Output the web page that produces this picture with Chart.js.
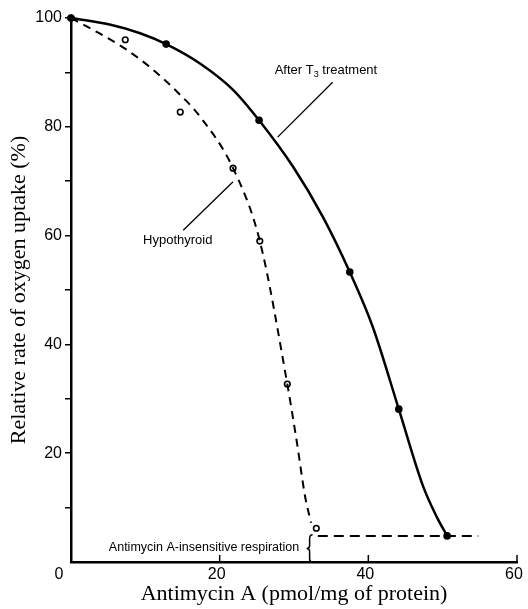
<!DOCTYPE html>
<html>
<head>
<meta charset="utf-8">
<script src="https://cdn.jsdelivr.net/npm/chart.js@4"></script>
<style>
  html, body { margin: 0; padding: 0; background: #fff; }
  #wrap { width: 528px; height: 609px; }
</style>
</head>
<body>
<div id="wrap"><canvas id="chart"></canvas></div>
<script>
// measured points
const t3X = [0, 12.8, 25.3, 37.5, 44.1, 50.6];
const t3Y = [100, 95.2, 81.2, 53.3, 28.1, 4.8];
const hypoX = [0, 7.3, 14.7, 21.8, 25.4, 29.1, 33.0];
const hypoY = [100, 96, 82.7, 72.4, 59, 32.7, 6.2];

// solid fitted curve (After T3)
const t3CurveX = [0, 5.2, 9.3, 12.8, 17.4, 21.8, 25.3, 29.9, 33.9, 37.5, 40.6, 44.1, 47.4, 49.2, 50.6];
const t3CurveY = [100, 98.8, 97.2, 95.2, 91.6, 86.8, 81.2, 72.6, 63.4, 53.3, 43.2, 28.1, 13.8, 8.3, 4.8];

// dashed fitted curve (hypothyroid)
const hypoCurveX = [0, 3, 7, 10.6, 14.3, 17.4, 21.8, 25.4, 29.1, 30.4, 31.5, 32.3];
const hypoCurveY = [100, 97.8, 94.6, 91, 86.4, 81.8, 72.4, 59, 32.7, 21.9, 12, 7.2];

// antimycin A-insensitive level
const baseX = [33.2, 54.8];
const baseY = [4.8, 4.8];

const xTicks = [0, 20, 40, 60];

const pts = (xs, ys) => xs.map((x, i) => ({ x: x, y: ys[i] }));

const sans = "'Liberation Sans', Arial, sans-serif";
const serif = "'Liberation Serif', 'Times New Roman', serif";

const extras = {
  id: 'extras',
  afterDraw(chart) {
    const ctx = chart.ctx;
    const xs = chart.scales.x, ys = chart.scales.y;
    const px = v => xs.getPixelForValue(v);
    const py = v => ys.getPixelForValue(v);
    ctx.save();
    ctx.strokeStyle = '#000';
    ctx.fillStyle = '#000';

    // inward ticks on the x axis
    ctx.lineWidth = 1.5;
    xTicks.slice(1).forEach(v => {
      ctx.beginPath();
      ctx.moveTo(px(v), py(0));
      ctx.lineTo(px(v), py(0) - 7);
      ctx.stroke();
    });

    // x tick labels
    ctx.font = '16px ' + sans;
    ctx.textAlign = 'center';
    ctx.textBaseline = 'middle';
    xTicks.forEach(v => {
      const off = v === 0 ? -12 : -3;
      ctx.fillText(String(v), px(v) + off, py(0) + 13);
    });

    // leader lines
    ctx.lineWidth = 1.3;
    ctx.beginPath();
    ctx.moveTo(px(35.2), py(88.2));
    ctx.lineTo(px(27.8), py(78.1));
    ctx.moveTo(px(15.1), py(61.0));
    ctx.lineTo(px(21.8), py(69.9));
    ctx.stroke();

    // curve labels
    ctx.font = '13px ' + sans;
    ctx.textAlign = 'left';
    ctx.textBaseline = 'middle';
    let lx = px(27.4), ly = py(90.4);
    ctx.fillText('After T', lx, ly);
    lx += ctx.measureText('After T').width;
    ctx.font = '9px ' + sans;
    ctx.fillText('3', lx, ly + 4);
    lx += ctx.measureText('3').width;
    ctx.font = '13px ' + sans;
    ctx.fillText(' treatment', lx, ly);

    ctx.fillText('Hypothyroid', px(9.7), py(59.2));

    ctx.font = '12.5px ' + sans;
    ctx.textAlign = 'right';
    ctx.fillText('Antimycin A-insensitive respiration', px(30.7), py(2.6));

    // brace
    const bx = px(32.1), top = py(5), bot = py(0), mid = (top + bot) / 2;
    ctx.lineWidth = 1.5;
    ctx.beginPath();
    ctx.moveTo(bx + 3, top);
    ctx.quadraticCurveTo(bx, top, bx, top + 4);
    ctx.lineTo(bx, mid - 3);
    ctx.quadraticCurveTo(bx, mid, bx - 3, mid);
    ctx.quadraticCurveTo(bx, mid, bx, mid + 3);
    ctx.lineTo(bx, bot - 3);
    ctx.quadraticCurveTo(bx, bot, bx + 3, bot);
    ctx.stroke();

    ctx.restore();
  }
};

new Chart(document.getElementById('chart'), {
  type: 'scatter',
  data: {
    datasets: [
      {
        label: 'After T3 treatment curve',
        type: 'line',
        data: pts(t3CurveX, t3CurveY),
        borderColor: '#000',
        borderWidth: 2.5,
        cubicInterpolationMode: 'monotone',
        pointRadius: 0,
        fill: false,
        clip: false
      },
      {
        label: 'Hypothyroid curve',
        type: 'line',
        data: pts(hypoCurveX, hypoCurveY),
        borderColor: '#000',
        borderWidth: 2,
        borderDash: [8, 6],
        cubicInterpolationMode: 'monotone',
        pointRadius: 0,
        fill: false,
        clip: false
      },
      {
        label: 'Insensitive level',
        type: 'line',
        data: pts(baseX, baseY),
        borderColor: '#000',
        borderWidth: 2,
        borderDash: [10, 6],
        pointRadius: 0,
        fill: false,
        clip: false
      },
      {
        label: 'After T3 treatment',
        data: pts(t3X, t3Y),
        pointRadius: 3.8,
        pointBackgroundColor: '#000',
        pointBorderColor: '#000',
        pointBorderWidth: 0,
        clip: false
      },
      {
        label: 'Hypothyroid',
        data: pts(hypoX, hypoY),
        pointRadius: 2.8,
        pointBackgroundColor: '#fff',
        pointBorderColor: '#000',
        pointBorderWidth: 1.6,
        clip: false
      }
    ]
  },
  options: {
    responsive: true,
    maintainAspectRatio: false,
    animation: false,
    layout: { padding: { left: 0, right: 11, top: 18, bottom: 0 } },
    plugins: {
      legend: { display: false },
      tooltip: { enabled: false }
    },
    scales: {
      x: {
        type: 'linear',
        min: 0,
        max: 60,
        afterFit: s => { s.height = 47; },
        border: { display: true, color: '#000', width: 2.5 },
        grid: { display: false },
        ticks: { display: false },
        title: {
          display: true,
          text: 'Antimycin A (pmol/mg of protein)',
          color: '#000',
          font: { family: serif, size: 22 },
          padding: { top: 0, bottom: 2 }
        }
      },
      y: {
        type: 'linear',
        min: 0,
        max: 100,
        afterFit: s => { s.width = 71; },
        border: { display: true, color: '#000', width: 2.5 },
        grid: {
          display: true,
          drawOnChartArea: false,
          drawTicks: true,
          tickLength: 6,
          color: '#000',
          lineWidth: c => (c.tick && c.tick.value === 0 ? 0 : 1.5)
        },
        ticks: {
          stepSize: 10,
          color: '#000',
          padding: 3,
          font: { family: sans, size: 16 },
          callback: v => (v > 0 && v % 20 === 0 ? String(v) : '')
        },
        title: {
          display: true,
          text: 'Relative rate of oxygen uptake (%)',
          color: '#000',
          font: { family: serif, size: 22 },
          padding: { top: 6, bottom: 0 }
        }
      }
    }
  },
  plugins: [extras]
});
</script>
</body>
</html>
